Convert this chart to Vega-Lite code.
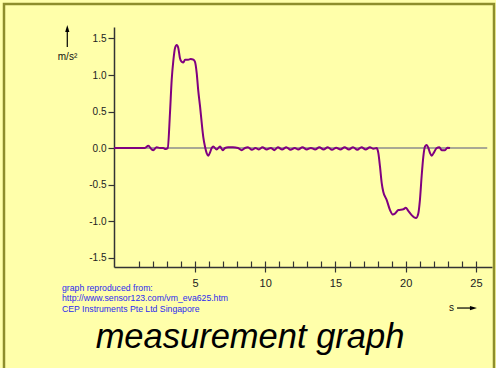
{
  "$schema": "https://vega.github.io/schema/vega-lite/v6.json",
  "width": 378,
  "height": 240,
  "autosize": {"type": "none"},
  "padding": {"left": 114, "top": 27, "right": 4, "bottom": 101},
  "background": "#FFFFAA",
  "config": {"view": {"stroke": null}, "font": "Liberation Sans"},
  "datasets": {
    "curve": [
      {"t": -0.765, "v": 0}, {"t": 1.4, "v": 0}, {"t": 1.68, "v": 0.03}, {"t": 1.92, "v": -0.02},
      {"t": 2.03, "v": -0.03}, {"t": 2.27, "v": 0.01}, {"t": 2.51, "v": 0}, {"t": 2.74, "v": 0},
      {"t": 2.91, "v": -0.015}, {"t": 3.06, "v": 0}, {"t": 3.22, "v": 0.48}, {"t": 3.34, "v": 0.93},
      {"t": 3.46, "v": 1.2}, {"t": 3.58, "v": 1.37}, {"t": 3.7, "v": 1.41}, {"t": 3.81, "v": 1.37},
      {"t": 3.93, "v": 1.23}, {"t": 4.05, "v": 1.18}, {"t": 4.17, "v": 1.17}, {"t": 4.29, "v": 1.21},
      {"t": 4.41, "v": 1.21}, {"t": 4.52, "v": 1.21}, {"t": 4.69, "v": 1.22}, {"t": 4.88, "v": 1.21},
      {"t": 5.0, "v": 1.18}, {"t": 5.12, "v": 1.03}, {"t": 5.23, "v": 0.79}, {"t": 5.36, "v": 0.57},
      {"t": 5.48, "v": 0.34}, {"t": 5.59, "v": 0.15}, {"t": 5.71, "v": 0.02}, {"t": 5.83, "v": -0.07},
      {"t": 5.95, "v": -0.105}, {"t": 6.07, "v": -0.06}, {"t": 6.19, "v": 0}, {"t": 6.3, "v": 0.02},
      {"t": 6.54, "v": -0.02}, {"t": 6.78, "v": 0.02}, {"t": 6.97, "v": -0.03}, {"t": 7.14, "v": 0},
      {"t": 7.35, "v": 0.01}, {"t": 7.7, "v": 0.01}, {"t": 8.06, "v": 0}, {"t": 8.32, "v": -0.03},
      {"t": 8.56, "v": 0}, {"t": 8.77, "v": 0.01}, {"t": 9.05, "v": -0.025}, {"t": 9.3, "v": 0.0},
      {"t": 9.55, "v": -0.02}, {"t": 9.8, "v": 0.01}, {"t": 10.1, "v": -0.02}, {"t": 10.4, "v": 0.0},
      {"t": 10.65, "v": -0.03}, {"t": 10.9, "v": 0.01}, {"t": 11.2, "v": -0.02}, {"t": 11.5, "v": 0.01},
      {"t": 11.8, "v": -0.025}, {"t": 12.1, "v": 0.0}, {"t": 12.35, "v": -0.02}, {"t": 12.65, "v": 0.01},
      {"t": 12.95, "v": -0.02}, {"t": 13.25, "v": 0.0}, {"t": 13.55, "v": -0.02}, {"t": 13.85, "v": 0.01},
      {"t": 14.15, "v": -0.02}, {"t": 14.45, "v": 0.01}, {"t": 14.75, "v": -0.025}, {"t": 15.05, "v": 0.005},
      {"t": 15.35, "v": -0.02}, {"t": 15.65, "v": 0.01}, {"t": 15.95, "v": -0.02}, {"t": 16.25, "v": 0.01},
      {"t": 16.55, "v": -0.025}, {"t": 16.85, "v": 0.01}, {"t": 17.15, "v": -0.02}, {"t": 17.45, "v": 0.01},
      {"t": 17.7, "v": -0.01}, {"t": 17.93, "v": 0}, {"t": 18.05, "v": -0.07}, {"t": 18.17, "v": -0.26},
      {"t": 18.29, "v": -0.48}, {"t": 18.4, "v": -0.6}, {"t": 18.64, "v": -0.71}, {"t": 18.88, "v": -0.85},
      {"t": 19.07, "v": -0.91}, {"t": 19.23, "v": -0.9}, {"t": 19.47, "v": -0.85}, {"t": 19.83, "v": -0.84},
      {"t": 20.0, "v": -0.82}, {"t": 20.18, "v": -0.86}, {"t": 20.42, "v": -0.92}, {"t": 20.73, "v": -0.96},
      {"t": 20.89, "v": -0.9}, {"t": 21.01, "v": -0.71}, {"t": 21.13, "v": -0.39}, {"t": 21.25, "v": -0.12},
      {"t": 21.37, "v": 0.02}, {"t": 21.49, "v": 0.04}, {"t": 21.61, "v": 0}, {"t": 21.73, "v": -0.07},
      {"t": 21.85, "v": -0.105}, {"t": 22.01, "v": -0.06}, {"t": 22.2, "v": 0}, {"t": 22.39, "v": 0.01},
      {"t": 22.56, "v": -0.03}, {"t": 22.79, "v": -0.03}, {"t": 22.96, "v": 0.005}, {"t": 23.15, "v": 0}
    ],
    "notes": [
      {"t": -4.466, "v": -1.922, "text": "graph reproduced from:"},
      {"t": -4.466, "v": -2.059, "text": "http://www.sensor123.com/vm_eva625.htm"},
      {"t": -4.466, "v": -2.201, "text": "CEP Instruments Pte Ltd Singapore"}
    ]
  },
  "resolve": {"axis": {"x": "independent", "y": "independent"}},
  "layer": [
    {
      "data": {"values": [{"x1": -8.594, "x2": 26.281, "y1": 1.9726, "y2": -3.178}]},
      "mark": {"type": "rect", "fill": "transparent", "stroke": "#8E8E2C", "strokeWidth": 2.5, "clip": false},
      "encoding": {
        "x": {"field": "x1", "type": "quantitative", "scale": {"domain": [-0.765, 26.139], "nice": false, "zero": false}, "axis": null},
        "x2": {"field": "x2"},
        "y": {"field": "y1", "type": "quantitative", "scale": {"domain": [-1.63, 1.6575], "nice": false, "zero": false}, "axis": null},
        "y2": {"field": "y2"}
      }
    },
    {
      "data": {"values": [{"t": -0.765, "t2": 25.8, "v": 0}]},
      "mark": {"type": "rule", "color": "#8C8C8C", "strokeWidth": 1.5, "clip": false},
      "encoding": {
        "x": {"field": "t", "type": "quantitative", "scale": {"domain": [-0.765, 26.139], "nice": false, "zero": false},
          "axis": {"orient": "bottom", "values": [1,2,3,4,5,6,7,8,9,10,11,12,13,14,15,16,17,18,19,20,21,22,23,24,25], "tickSize": -6, "tickColor": "#333333", "tickWidth": 1.2, "labels": false, "domain": false, "grid": false, "title": null}},
        "x2": {"field": "t2"},
        "y": {"field": "v", "type": "quantitative", "scale": {"domain": [-1.63, 1.6575], "nice": false, "zero": false}, "axis": null}
      }
    },
    {
      "data": {"name": "curve"},
      "mark": {"type": "line", "color": "#800080", "strokeWidth": 2, "interpolate": "monotone"},
      "encoding": {
        "x": {"field": "t", "type": "quantitative", "scale": {"domain": [-0.765, 26.139], "nice": false, "zero": false},
          "axis": {"orient": "bottom", "values": [5, 10, 15, 20, 25], "tickSize": 5, "tickColor": "#333333", "tickWidth": 1.2, "domainColor": "#333333", "domainWidth": 1.5, "labelFontSize": 11, "labelColor": "#222222", "labelPadding": 5, "grid": false, "title": null}},
        "y": {"field": "v", "type": "quantitative", "scale": {"domain": [-1.63, 1.6575], "nice": false, "zero": false},
          "axis": {"orient": "left", "values": [-1.5, -1, -0.5, 0, 0.5, 1, 1.5], "labelExpr": "datum.value < 0 ? '-' + format(-datum.value, '.1f') : format(datum.value, '.1f')", "tickSize": 6, "tickColor": "#333333", "tickWidth": 1.2, "domainColor": "#333333", "domainWidth": 1.5, "labelFontSize": 10, "labelColor": "#222222", "labelPadding": 2, "grid": false, "title": null}}
      }
    },
    {
      "data": {"name": "notes"},
      "mark": {"type": "text", "align": "left", "baseline": "middle", "fontSize": 8.7, "color": "#2B2BEF", "clip": false},
      "encoding": {
        "x": {"field": "t", "type": "quantitative", "scale": {"domain": [-0.765, 26.139], "nice": false, "zero": false}, "axis": null},
        "y": {"field": "v", "type": "quantitative", "scale": {"domain": [-1.63, 1.6575], "nice": false, "zero": false}, "axis": null},
        "text": {"field": "text"}
      }
    },
    {
      "data": {"values": [{"t": 8.915, "v": -2.74, "text": "measurement graph"}]},
      "mark": {"type": "text", "align": "center", "baseline": "alphabetic", "fontSize": 34.5, "fontStyle": "italic", "color": "#000000", "clip": false},
      "encoding": {
        "x": {"field": "t", "type": "quantitative", "scale": {"domain": [-0.765, 26.139], "nice": false, "zero": false}, "axis": null},
        "y": {"field": "v", "type": "quantitative", "scale": {"domain": [-1.63, 1.6575], "nice": false, "zero": false}, "axis": null},
        "text": {"field": "text"}
      }
    },
    {
      "data": {"values": [{"t": -4.075, "v": 1.253, "text": "m/s²"}, {"t": 23.26, "v": -2.192, "text": "s"}]},
      "mark": {"type": "text", "align": "center", "baseline": "middle", "fontSize": 10, "color": "#111111", "clip": false},
      "encoding": {
        "x": {"field": "t", "type": "quantitative", "scale": {"domain": [-0.765, 26.139], "nice": false, "zero": false}, "axis": null},
        "y": {"field": "v", "type": "quantitative", "scale": {"domain": [-1.63, 1.6575], "nice": false, "zero": false}, "axis": null},
        "text": {"field": "text"}
      }
    },
    {
      "data": {"values": [{"t": -4.09, "t2": -4.09, "v": 1.384, "v2": 1.603}, {"t": 23.65, "t2": 24.64, "v": -2.192, "v2": -2.192}]},
      "mark": {"type": "rule", "color": "#000000", "strokeWidth": 1.2, "clip": false},
      "encoding": {
        "x": {"field": "t", "type": "quantitative", "scale": {"domain": [-0.765, 26.139], "nice": false, "zero": false}, "axis": null},
        "x2": {"field": "t2"},
        "y": {"field": "v", "type": "quantitative", "scale": {"domain": [-1.63, 1.6575], "nice": false, "zero": false}, "axis": null},
        "y2": {"field": "v2"}
      }
    },
    {
      "data": {"values": [{"t": -4.09, "v": 1.637}]},
      "mark": {"type": "point", "shape": "M0,-1L0.6,1L-0.6,1Z", "size": 49, "filled": true, "color": "#000000", "opacity": 1, "clip": false},
      "encoding": {
        "x": {"field": "t", "type": "quantitative", "scale": {"domain": [-0.765, 26.139], "nice": false, "zero": false}, "axis": null},
        "y": {"field": "v", "type": "quantitative", "scale": {"domain": [-1.63, 1.6575], "nice": false, "zero": false}, "axis": null}
      }
    },
    {
      "data": {"values": [{"t": 24.82, "v": -2.192}]},
      "mark": {"type": "point", "shape": "M1,0L-1,0.6L-1,-0.6Z", "size": 49, "filled": true, "color": "#000000", "opacity": 1, "clip": false},
      "encoding": {
        "x": {"field": "t", "type": "quantitative", "scale": {"domain": [-0.765, 26.139], "nice": false, "zero": false}, "axis": null},
        "y": {"field": "v", "type": "quantitative", "scale": {"domain": [-1.63, 1.6575], "nice": false, "zero": false}, "axis": null}
      }
    }
  ]
}
